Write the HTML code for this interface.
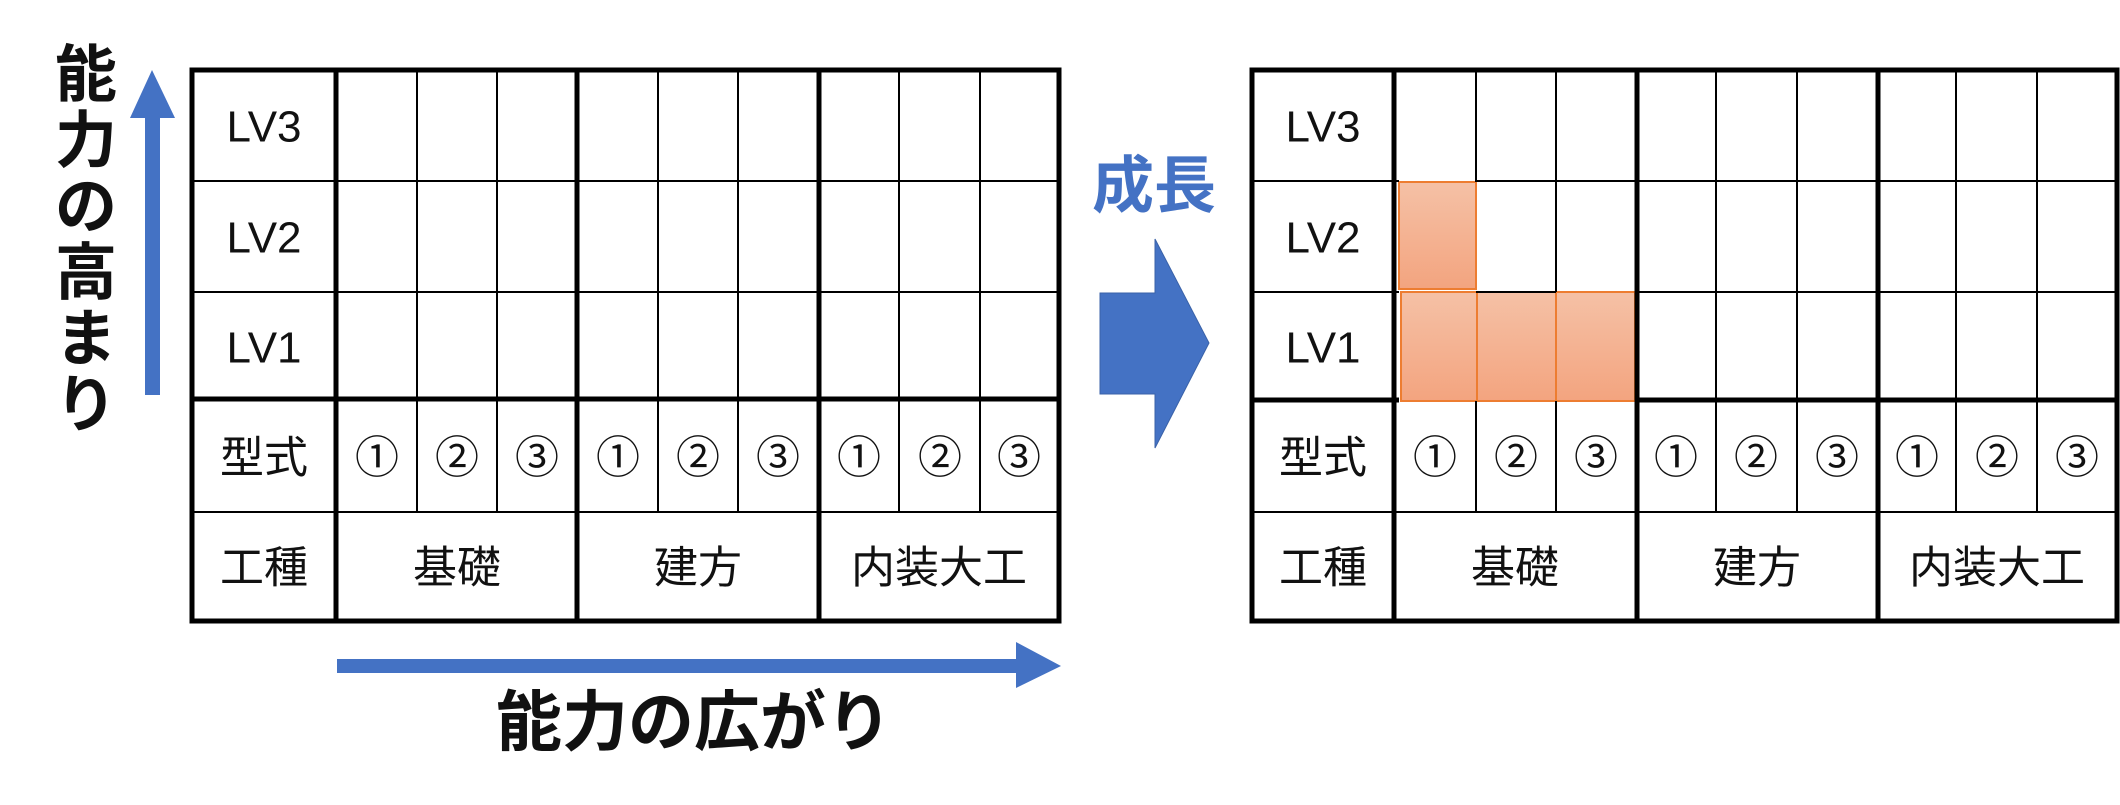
<!DOCTYPE html>
<html><head><meta charset="utf-8"><style>
html,body{margin:0;padding:0;background:#fff;}
svg{display:block;}
text{font-family:"Liberation Sans","Noto Sans CJK JP",sans-serif;}
</style></head><body>
<svg width="2120" height="805" viewBox="0 0 2120 805" xmlns="http://www.w3.org/2000/svg">
<defs>
<linearGradient id="og" x1="0" y1="0" x2="0" y2="1">
<stop offset="0" stop-color="#f5c1a6"/><stop offset="1" stop-color="#f3a47f"/>
</linearGradient>
</defs>

<!-- Left vertical arrow -->
<rect x="145" y="116" width="15" height="279" fill="#4472c4"/>
<polygon points="130,118 152,70 175,118" fill="#4472c4"/>
<g font-size="62" font-weight="bold" fill="#111" text-anchor="middle">
<text x="86" y="96">能</text><text x="86" y="162">力</text><text x="86" y="228">の</text>
<text x="86" y="294">高</text><text x="86" y="360">ま</text><text x="86" y="426">り</text>
</g>

<!-- Horizontal arrow -->
<rect x="337" y="659" width="681" height="14" fill="#4472c4"/>
<polygon points="1016,642 1061,666 1016,688" fill="#4472c4"/>
<text x="694" y="745" font-size="66" font-weight="bold" fill="#111" text-anchor="middle">能力の広がり</text>

<!-- Center arrow -->
<polygon points="1100,293 1155,293 1155,239 1209,343 1155,448 1155,394 1100,394" fill="#4472c4" stroke="#3a62a8" stroke-width="1"/>
<text x="1154" y="207" font-size="62" font-weight="bold" fill="#4472c4" text-anchor="middle">成長</text>

<!-- Orange fills right table -->
<rect x="1399" y="182" width="77" height="107" fill="url(#og)" stroke="#ed7d31" stroke-width="2"/>
<rect x="1401" y="292" width="76" height="109" fill="url(#og)" stroke="#ed7d31" stroke-width="2"/>
<rect x="1477" y="292" width="79" height="109" fill="url(#og)" stroke="#ed7d31" stroke-width="2"/>
<rect x="1556" y="292" width="79" height="109" fill="url(#og)" stroke="#ed7d31" stroke-width="2"/>

<!-- Left table -->
<g stroke="#000" fill="none">
<g stroke-width="2">
<line x1="192" y1="181" x2="1059" y2="181"/><line x1="192" y1="292" x2="1059" y2="292"/>
<line x1="192" y1="512" x2="1059" y2="512"/>
<line x1="417" y1="70" x2="417" y2="512"/><line x1="497" y1="70" x2="497" y2="512"/>
<line x1="658" y1="70" x2="658" y2="512"/><line x1="738" y1="70" x2="738" y2="512"/>
<line x1="899" y1="70" x2="899" y2="512"/><line x1="980" y1="70" x2="980" y2="512"/>
</g>
<g stroke-width="5">
<line x1="192" y1="399" x2="1059" y2="399"/>
<line x1="336" y1="70" x2="336" y2="621"/><line x1="577" y1="70" x2="577" y2="621"/><line x1="819" y1="70" x2="819" y2="621"/>
<rect x="192" y="70" width="867" height="551"/>
</g>
</g>
<g font-size="44" fill="#111" text-anchor="middle" dominant-baseline="central">
<text x="264" y="127">LV3</text><text x="264" y="238">LV2</text><text x="264" y="348">LV1</text>
<text x="264" y="458">型式</text><text x="264" y="568">工種</text>
<text x="377" y="458">①</text><text x="457" y="458">②</text><text x="537" y="458">③</text>
<text x="618" y="458">①</text><text x="698" y="458">②</text><text x="778" y="458">③</text>
<text x="859" y="458">①</text><text x="940" y="458">②</text><text x="1019" y="458">③</text>
<text x="457" y="568">基礎</text><text x="698" y="568">建方</text><text x="939" y="568">内装大工</text>
</g>

<!-- Right table -->
<g stroke="#000" fill="none">
<g stroke-width="2">
<line x1="1252" y1="181" x2="1399" y2="181"/><line x1="1476" y1="181" x2="2117" y2="181"/>
<line x1="1252" y1="292" x2="1399" y2="292"/><line x1="1635" y1="292" x2="2117" y2="292"/>
<line x1="1476" y1="292" x2="1556" y2="292"/>
<line x1="1252" y1="512" x2="2117" y2="512"/>
<line x1="1476" y1="70" x2="1476" y2="182"/><line x1="1476" y1="401" x2="1476" y2="512"/>
<line x1="1556" y1="70" x2="1556" y2="292"/><line x1="1556" y1="401" x2="1556" y2="512"/>
<line x1="1716" y1="70" x2="1716" y2="512"/><line x1="1797" y1="70" x2="1797" y2="512"/>
<line x1="1956" y1="70" x2="1956" y2="512"/><line x1="2037" y1="70" x2="2037" y2="512"/>
</g>
<g stroke-width="5">
<line x1="1252" y1="400" x2="1399" y2="400"/><line x1="1635" y1="400" x2="2117" y2="400"/>
<line x1="1394" y1="70" x2="1394" y2="621"/><line x1="1637" y1="70" x2="1637" y2="621"/><line x1="1878" y1="70" x2="1878" y2="621"/>
<rect x="1252" y="70" width="865" height="551"/>
</g>
</g>
<g font-size="44" fill="#111" text-anchor="middle" dominant-baseline="central">
<text x="1323" y="127">LV3</text><text x="1323" y="238">LV2</text><text x="1323" y="348">LV1</text>
<text x="1323" y="458">型式</text><text x="1323" y="568">工種</text>
<text x="1435" y="458">①</text><text x="1516" y="458">②</text><text x="1596" y="458">③</text>
<text x="1676" y="458">①</text><text x="1756" y="458">②</text><text x="1837" y="458">③</text>
<text x="1917" y="458">①</text><text x="1997" y="458">②</text><text x="2077" y="458">③</text>
<text x="1515" y="568">基礎</text><text x="1757" y="568">建方</text><text x="1997" y="568">内装大工</text>
</g>
</svg>
</body></html>
